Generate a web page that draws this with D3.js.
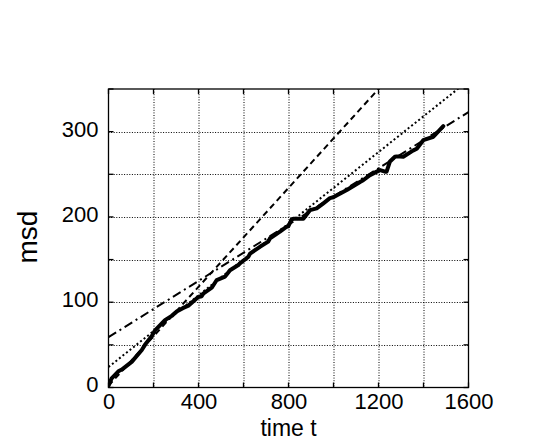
<!DOCTYPE html>
<html>
<head>
<meta charset="utf-8">
<script src="https://cdn.jsdelivr.net/npm/d3@7"></script>
<style>
  body { margin: 0; background: #fff; }
  text { font-family: "Liberation Sans", Arial, sans-serif; fill: #000; }
</style>
</head>
<body>
<div id="chart"></div>
<script>
// Width and height
var w = 540, h = 446;
var margin = {top: 89, right: 72, bottom: 59, left: 108.5};
var width = 468.5 - margin.left, height = 387.5 - margin.top;

// measured msd curve (time t, msd)
var msdT = [0, 14, 44, 59, 103, 148, 162, 192, 207, 236, 251, 281, 303, 330, 355, 399, 414, 421, 459, 481,
            518, 540, 577, 584, 621, 629, 673, 710, 718, 762, 792, 799, 814, 821, 866, 896, 925, 955, 984,
            999, 1059, 1118, 1132, 1162, 1199, 1207, 1229, 1236, 1251, 1273, 1281, 1310, 1355, 1370, 1399,
            1444, 1488];
var msdV = [2, 10.8, 19, 21, 30, 44, 50, 60, 67, 75, 79, 84, 89, 93, 96, 106, 107, 110, 117, 126,
            130, 137.5, 143.6, 145.6, 153, 157, 165, 171, 175, 182.7, 188.5, 189, 197, 198, 198, 208, 210, 216, 222,
            223, 231.5, 241, 243, 249, 254, 255, 253, 253, 265, 270.6, 271, 270.6, 278, 280, 290,
            294, 306.5];

// fitted lines, given by their end points (t, msd)
var dashedFit  = [[0, 2], [1600, 466]];
var dottedFit  = [[0, 24], [1600, 360]];
var dashDotFit = [[0, 59], [1600, 323]];

// tick labels
var xLabels = [0, 400, 800, 1200, 1600];
var yLabels = [0, 100, 200, 300];
var xGrid = [0, 200, 400, 600, 800, 1000, 1200, 1400, 1600];
var yGrid = [0, 50, 100, 150, 200, 250, 300, 350];

var svg = d3.select("#chart").append("svg")
            .attr("width", w).attr("height", h);

var g = svg.append("g").attr("transform", "translate(" + margin.left + "," + margin.top + ")");

var x = d3.scaleLinear().domain([0, 1600]).range([0, width]);
var y = d3.scaleLinear().domain([0, 350]).range([height, 0]);

// clip for lines
svg.append("defs").append("clipPath").attr("id", "plot")
   .append("rect").attr("width", width).attr("height", height);

// dotted grid
var grid = g.append("g").attr("class", "grid");
grid.selectAll(".vg").data(xGrid.slice(1, -1)).enter().append("line")
    .attr("x1", function(d) { return Math.round(x(d)) + 0.5; })
    .attr("x2", function(d) { return Math.round(x(d)) + 0.5; })
    .attr("y1", 0).attr("y2", height);
grid.selectAll(".hg").data(yGrid.slice(1, -1)).enter().append("line")
    .attr("y1", function(d) { return Math.round(y(d)) + 0.5; })
    .attr("y2", function(d) { return Math.round(y(d)) + 0.5; })
    .attr("x1", 0).attr("x2", width);
grid.selectAll("line").attr("stroke", "#000").attr("stroke-width", 1)
    .attr("stroke-dasharray", "1,1.6");

// inward ticks on all four sides
var tl = 5;
var ticks = g.append("g");
xGrid.forEach(function(d) {
  ticks.append("line").attr("x1", x(d)).attr("x2", x(d)).attr("y1", height).attr("y2", height - tl);
  ticks.append("line").attr("x1", x(d)).attr("x2", x(d)).attr("y1", 0).attr("y2", tl);
});
yGrid.forEach(function(d) {
  ticks.append("line").attr("y1", y(d)).attr("y2", y(d)).attr("x1", 0).attr("x2", tl);
  ticks.append("line").attr("y1", y(d)).attr("y2", y(d)).attr("x1", width).attr("x2", width - tl);
});
ticks.selectAll("line").attr("stroke", "#000").attr("stroke-width", 1.3);

// axes for labels
var xAxis = g.append("g").attr("transform", "translate(0," + height + ")")
             .call(d3.axisBottom(x).tickValues(xLabels).tickSize(0).tickPadding(6).tickFormat(d3.format("d")));
var yAxis = g.append("g")
             .call(d3.axisLeft(y).tickValues(yLabels).tickSize(0).tickPadding(10).tickFormat(d3.format("d")));
[xAxis, yAxis].forEach(function(a) {
  a.select(".domain").remove();
  a.selectAll("text").style("font-size", "22px").attr("fill", "#000");
});
yAxis.selectAll("text").attr("dy", "0.2em");
xAxis.selectAll("text").attr("dy", "0.71em");

// frame
g.append("rect").attr("width", width).attr("height", height)
 .attr("fill", "none").attr("stroke", "#000").attr("stroke-width", 1.3);

var lines = g.append("g").attr("clip-path", "url(#plot)");
var line = d3.line().x(function(d) { return x(d[0]); }).y(function(d) { return y(d[1]); });

lines.append("path").datum(dashedFit).attr("d", line)
     .attr("fill", "none").attr("stroke", "#000").attr("stroke-width", 2)
     .attr("stroke-dasharray", "6,4");
lines.append("path").datum(dottedFit).attr("d", line)
     .attr("fill", "none").attr("stroke", "#000").attr("stroke-width", 2)
     .attr("stroke-dasharray", "2,2.5");
lines.append("path").datum(dashDotFit).attr("d", line)
     .attr("fill", "none").attr("stroke", "#000").attr("stroke-width", 2)
     .attr("stroke-dasharray", "9,4,2,4");

// measured curve
var msdData = msdT.map(function(t, i) { return [t, msdV[i]]; });
lines.append("path").datum(msdData).attr("d", line)
     .attr("fill", "none").attr("stroke", "#000").attr("stroke-width", 4)
     .attr("stroke-linejoin", "round").attr("stroke-linecap", "round");

// axis titles
svg.append("text").text("time t")
   .attr("x", margin.left + width / 2).attr("y", 436)
   .attr("text-anchor", "middle").style("font-size", "23px");
svg.append("text").text("msd")
   .attr("transform", "translate(37,237) rotate(-90)")
   .attr("text-anchor", "middle").style("font-size", "28px");
</script>
</body>
</html>
